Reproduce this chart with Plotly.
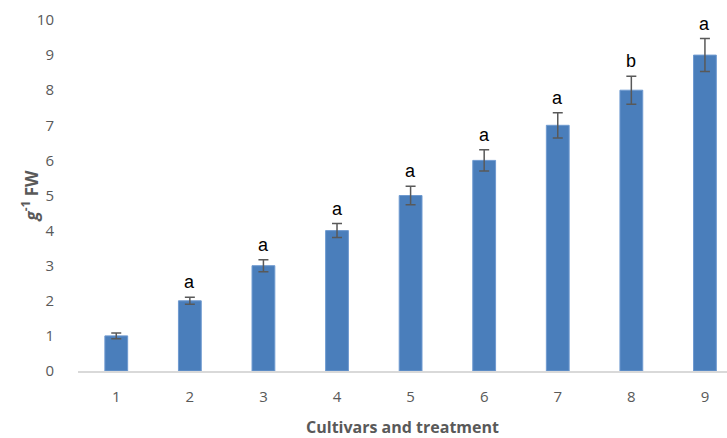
import plotly.graph_objects as go

categories = [1, 2, 3, 4, 5, 6, 7, 8, 9]
values = [1.0, 2.0, 3.0, 4.0, 5.0, 6.0, 7.0, 8.0, 9.0]
errors = [0.08, 0.1, 0.17, 0.2, 0.26, 0.3, 0.36, 0.4, 0.47]
letters = ["", "a", "a", "a", "a", "a", "a", "b", "a"]
y_ticks = [0, 1, 2, 3, 4, 5, 6, 7, 8, 9, 10]

fig = go.Figure()
fig.add_trace(go.Bar(
    x=categories, y=values, width=0.31,
    marker=dict(color="#4a7ebb", line=dict(color="#6f9ad0", width=1)),
    error_y=dict(type="data", array=errors, visible=True,
                 color="#595959", thickness=1.5, width=5),
))

for c, v, e, l in zip(categories, values, errors, letters):
    if l:
        fig.add_annotation(x=c, y=v + e, text=l, showarrow=False,
                           yanchor="bottom", yshift=3,
                           font=dict(family="Liberation Sans, Arial", size=18, color="#000000"))

grey = "#595959"
fig.add_annotation(xref="paper", yref="paper", x=0, y=0.5, xshift=-48,
                   text="<b><i>g</i><sup>-1</sup> FW</b>", textangle=-90, showarrow=False,
                   xanchor="center", yanchor="middle",
                   font=dict(family="Open Sans, Liberation Sans, Arial", size=17, color=grey))

fig.update_layout(
    width=727, height=438,
    margin=dict(l=78, r=0, t=20, b=67),
    plot_bgcolor="white", paper_bgcolor="white",
    showlegend=False,
    font=dict(family="Open Sans, Liberation Sans, Arial", color=grey),
    xaxis=dict(
        range=[0.48, 9.3], tickmode="array", tickvals=categories,
        ticktext=[str(c) for c in categories],
        showgrid=False, zeroline=False, showline=True, linecolor="#d9d9d9", linewidth=1.5,
        ticks="outside", ticklen=11, tickcolor="rgba(0,0,0,0)",
        tickfont=dict(size=15, color=grey),
        title=dict(text="<b>Cultivars and treatment</b>", font=dict(size=16, color=grey), standoff=20),
    ),
    yaxis=dict(
        range=[0, 10], tickmode="array", tickvals=y_ticks,
        showgrid=False, zeroline=False, showline=False,
        ticks="outside", ticklen=20, tickcolor="rgba(0,0,0,0)",
        tickfont=dict(size=15, color=grey),
    ),
)

fig.write_html("out.html")
